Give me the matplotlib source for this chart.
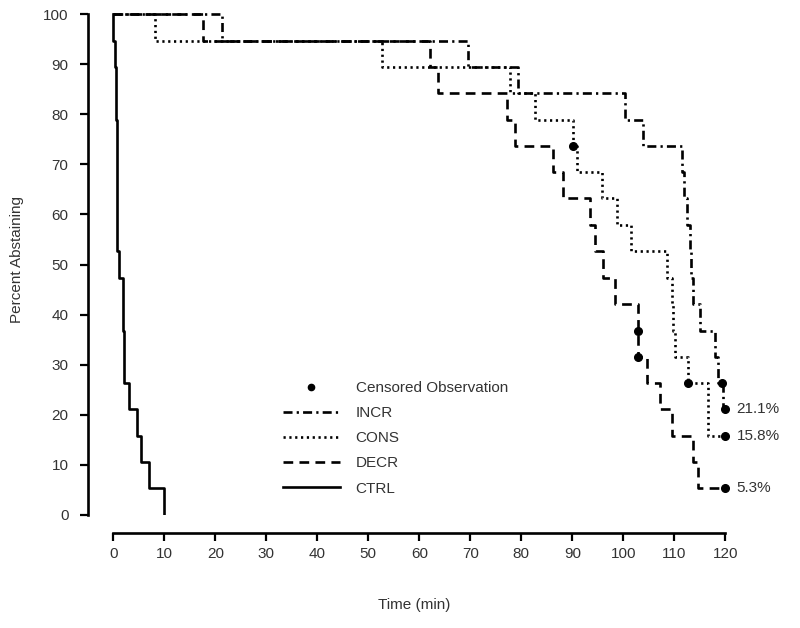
import numpy as np
import matplotlib
matplotlib.use("Agg")
from matplotlib import pyplot as plt
from matplotlib.lines import Line2D
from matplotlib.legend_handler import HandlerLine2D

plt.rcParams['font.family'] = ['Liberation Sans', 'DejaVu Sans']
plt.rcParams['lines.scale_dashes'] = False

# kaplan-meier style curves
incr_t = [0, 21.3, 69.6, 79.4, 100.3, 103.8, 111.6, 112.0, 112.5, 113.0, 113.3, 113.6, 115.0, 118.0, 118.6, 119.5, 120]
incr_s = [100, 94.7, 89.5, 84.2, 78.9, 73.7, 68.4, 63.2, 57.9, 52.6, 47.4, 42.1, 36.8, 31.6, 26.3, 21.1, 21.1]
incr_cens_t = [119.3, 120]
incr_cens_s = [26.3, 21.1]

cons_t = [0, 8.2, 52.6, 77.8, 82.7, 90.1, 90.9, 95.8, 98.7, 101.6, 108.5, 109.5, 109.8, 110.1, 112.7, 116.7, 120]
cons_s = [100, 94.7, 89.5, 84.2, 78.9, 73.7, 68.4, 63.2, 57.9, 52.6, 47.4, 42.1, 36.8, 31.6, 26.3, 15.8, 15.8]
cons_cens_t = [90.1, 112.7, 120]
cons_cens_s = [73.7, 26.3, 15.8]

decr_t = [0, 17.6, 62.1, 63.7, 77.1, 78.8, 86.2, 88.2, 93.5, 94.5, 96.1, 98.4, 102.9, 104.6, 107.2, 109.5, 113.7, 114.7, 120]
decr_s = [100, 94.7, 89.5, 84.2, 78.9, 73.7, 68.4, 63.2, 57.9, 52.6, 47.4, 42.1, 31.6, 26.3, 21.1, 15.8, 10.5, 5.3, 5.3]
decr_cens_t = [102.9, 102.9, 120]
decr_cens_s = [36.8, 31.6, 5.3]

ctrl_t = [0, 0, 0.33, 0.47, 0.67, 0.8, 1.2, 1.85, 2.05, 3.1, 4.7, 5.4, 7.0, 10.0]
ctrl_s = [100, 94.7, 89.5, 78.9, 57.9, 52.6, 47.4, 36.8, 26.3, 21.1, 15.8, 10.5, 5.3, 0]

end_labels = ["21.1%", "15.8%", "5.3%"]
end_values = [21.1, 15.8, 5.3]

x_ticks = np.arange(0, 121, 10)
y_ticks = np.arange(0, 101, 10)

txt = "#333333"
lw = 1.9
fs = 11

fig = plt.figure(figsize=(8, 6.28), dpi=100)
ax = fig.add_axes([88/800, 1-515/628, (740.6-88)/800, 511/628])

l_incr, = ax.step(incr_t, incr_s, where="post", color="k", lw=lw, dashes=(6.5, 3, 1.6, 3))
l_cons, = ax.step(cons_t, cons_s, where="post", color="k", lw=lw, dashes=(1.6, 2.6))
l_decr, = ax.step(decr_t, decr_s, where="post", color="k", lw=lw, dashes=(7, 4.5))
l_ctrl, = ax.step(ctrl_t, ctrl_s, where="post", color="k", lw=lw)

for ct, cs in [(incr_cens_t, incr_cens_s), (cons_cens_t, cons_cens_s), (decr_cens_t, decr_cens_s)]:
    ax.plot(ct, cs, "o", color="k", ms=5.5, ls="none")

for lab, v in zip(end_labels, end_values):
    ax.annotate(lab, (120, v), xytext=(8, 0), textcoords="offset points",
                va="center", ha="left", fontsize=fs, color=txt)

ax.set_xlim(-4.96, 123)
ax.set_ylim(0, 102)
ax.set_xticks(x_ticks)
ax.set_yticks(y_ticks)
ax.spines['top'].set_visible(False)
ax.spines['right'].set_visible(False)
ax.spines['left'].set_bounds(0, 100)
ax.spines['bottom'].set_bounds(0, 120)
ax.spines['bottom'].set_position(('outward', 13))
for s in ['left', 'bottom']:
    ax.spines[s].set_linewidth(1.9)
ax.tick_params(direction="out", length=6, width=1.6, labelsize=fs, labelcolor=txt)
ax.tick_params(axis="y", pad=8)
ax.tick_params(axis="x", pad=4)
ax.set_xlabel("Time (min)", fontsize=fs, color=txt, labelpad=27)
ax.set_ylabel("Percent Abstaining", fontsize=fs, color=txt, labelpad=14)


class EndMarker(HandlerLine2D):
    def get_xdata(self, legend, xdescent, ydescent, width, height, fontsize):
        xdata, xm = HandlerLine2D.get_xdata(self, legend, xdescent, ydescent, width, height, fontsize)
        return xdata, [width - xdescent]


cens = Line2D([], [], marker="o", color="k", ms=4.5, ls="none")
leg = ax.legend([cens, l_incr, l_cons, l_decr, l_ctrl],
                ["Censored Observation", "INCR", "CONS", "DECR", "CTRL"],
                loc="upper left", bbox_to_anchor=(283/800, 1-381/628), bbox_transform=fig.transFigure,
                frameon=False, fontsize=fs, handlelength=3.7, handletextpad=1.05,
                labelspacing=0.73, borderpad=0, borderaxespad=0,
                handler_map={cens: EndMarker(numpoints=1)})
for t in leg.get_texts():
    t.set_color(txt)

fig.savefig("out.png", dpi=100)
